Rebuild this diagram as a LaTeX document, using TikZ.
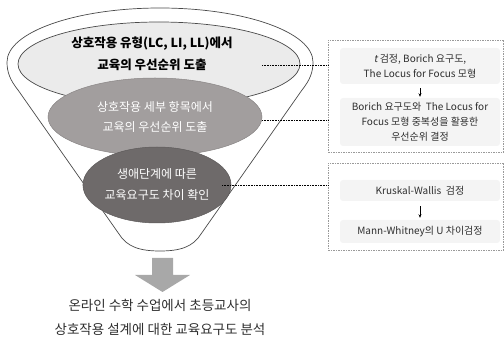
\documentclass[tikz,border=0pt]{standalone}
\usepackage{fontspec}
\setmainfont{Noto Sans CJK KR}
\newfontfamily\slfont[FakeSlant=0.2]{Noto Sans CJK KR}
\usetikzlibrary{arrows.meta,shapes.geometric}
\definecolor{ellA}{HTML}{EBEBEB}
\definecolor{ellB}{HTML}{A29E9E}
\definecolor{ellC}{HTML}{6E6A6A}
\definecolor{lineC}{HTML}{4A4A4A}
\definecolor{arrC}{HTML}{A8A8A8}
\definecolor{boxC}{HTML}{F4F4F4}
\definecolor{dashC}{HTML}{9A9A9A}
\definecolor{txtC}{HTML}{2E2E2E}
\begin{document}
\begin{tikzpicture}[x=1pt,y=-1pt,
  funnel/.style={draw=lineC,line width=0.7pt,fill=white},
  ellbase/.style={ellipse,inner sep=0pt,align=center},
  outerbox/.style={draw=dashC,dash pattern=on 1.5pt off 1pt,line width=0.6pt,inner sep=0pt},
  innerbox/.style={fill=boxC,rounded corners=3pt,inner sep=0pt,align=center,text=txtC,
    font=\fontsize{10}{15}\selectfont},
  dotline/.style={line width=0.8pt,dash pattern=on 0.8pt off 0.8pt,black},
  smallarr/.style={-{Stealth[length=3.5pt,width=3pt]},line width=0.6pt,black}]
\useasboundingbox (0,0) rectangle (504,339);
% funnel outline
\draw[funnel] (18,90) .. controls (10,80) and (7,72) .. (7,62)
  arc[start angle=180,end angle=0,x radius=153pt,y radius=54pt]
  .. controls (313,72) and (310,80) .. (302,90)
  -- (201,234) .. controls (193,247) and (180,251) .. (160,251)
  .. controls (140,251) and (127,247) .. (119,234) -- cycle;
% ellipses
\node[ellbase,draw=lineC,line width=0.7pt,fill=ellA,minimum width=282pt,minimum height=84pt] (e1) at (159,64) {};
\node[font=\fontsize{12.5}{22.5}\selectfont\bfseries,align=center,text=black] (t1) at (152,54)
  {상호작용 유형(LC, LI, LL)에서\\교육의 우선순위 도출};
\node[ellbase,draw=ellB!85!black,line width=0.5pt,fill=ellB,minimum width=214pt,minimum height=78pt,
  font=\fontsize{12}{20.5}\selectfont,text=white] (e2) at (155,117)
  {상호작용 세부 항목에서\\교육의 우선순위 도출};
\node[ellbase,draw=ellC!85!black,line width=0.5pt,fill=ellC,minimum width=124pt,minimum height=76pt,
  font=\fontsize{12}{21}\selectfont,text=white] (e3) at (157,185)
  {생애단계에 따른\\교육요구도 차이 확인};
% big arrow
\fill[arrC] (152,258) -- (173,258) -- (173,275) -- (190,275) -- (162.5,292) -- (135,275) -- (152,275) -- cycle;
\node[font=\fontsize{13.5}{24}\selectfont,align=center,text=txtC] (res) at (160,317)
  {온라인 수학 수업에서 초등교사의\\상호작용 설계에 대한 교육요구도 분석};
% right boxes
\node[outerbox,minimum width=175.5pt,minimum height=112pt] (b1) at (415.75,96) {};
\node[outerbox,minimum width=175.5pt,minimum height=87pt] (b2) at (415.75,206.5) {};
\node[innerbox,minimum width=160pt,minimum height=36pt] (b1a) at (420,66)
  {{\slfont t} 검정, Borich 요구도,\\The Locus for Focus 모형};
\node[innerbox,minimum width=160pt,minimum height=48pt] (b1b) at (420,122)
  {Borich 요구도와\ \ The Locus for\\Focus 모형 중복성을 활용한\\우선순위 결정};
\node[innerbox,minimum width=160pt,minimum height=21pt] (b2a) at (420,190.5)
  {Kruskal-Wallis\ \ 검정};
\node[innerbox,minimum width=160pt,minimum height=23pt] (b2b) at (420,231.5)
  {Mann-Whitney의 U 차이검정};
\draw[smallarr,shorten <=4pt,shorten >=1pt] (b1a) -- (b1b);
\draw[smallarr,shorten <=5pt,shorten >=2pt] (b2a) -- (b2b);
% dotted leaders
\coordinate (d1) at (262,65);
\coordinate (d2) at (262,120);
\coordinate (d3) at (222,185);
\draw[dotline] (d1) -- (d1 -| b1.west);
\draw[dotline] (d2) -- (d2 -| b1.west);
\draw[dotline] (d3) -- (d3 -| b2.west);
\end{tikzpicture}
\end{document}
